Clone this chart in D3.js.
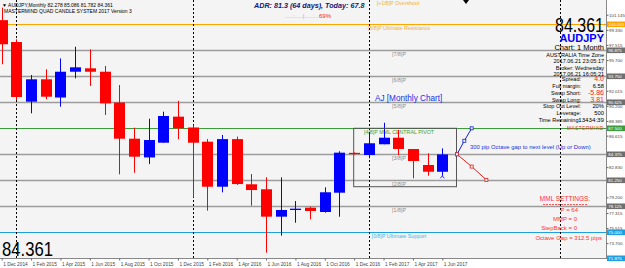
<!DOCTYPE html>
<html>
<head>
<meta charset="utf-8">
<script src="https://cdn.jsdelivr.net/npm/d3@7/dist/d3.min.js"></script>
<style>
body { margin: 0; background: #fff; }
svg { display: block; font-family: "Liberation Sans", Arial, sans-serif; }
</style>
</head>
<body>
<svg id="canvas" width="625" height="268"></svg>
<script>
// monthly AUDJPY bars, Dec 2014 .. Jun 2017
let opens  = [100.5, 97.87, 90.7, 93.39, 91.2, 94.3, 94.71, 94.3, 90.6, 86.25, 84.0, 85.77, 88.9,
              87.6, 85.89, 80.48, 86.2, 80.77, 80.17, 76.88, 77.68, 77.96, 77.44, 79.76, 84.55,
              84.29, 85.58, 86.37, 85.01, 83.09, 82.278]
let highs  = [102.0, 98.2, 93.9, 94.6, 95.9, 97.3, 97.0, 95.0, 92.7, 87.57, 88.65, 89.5, 90.8,
              87.86, 86.2, 86.7, 86.5, 82.0, 81.61, 81.6, 78.76, 78.08, 80.4, 84.74, 84.6,
              87.06, 88.17, 87.3, 85.01, 84.5, 85.086]
let lows   = [95.2, 90.9, 89.3, 91.0, 90.1, 93.5, 92.6, 89.1, 81.97, 82.16, 83.2, 85.77, 86.2,
              79.2, 77.6, 79.8, 80.7, 78.2, 72.55, 74.6, 76.15, 76.56, 77.36, 76.87, 84.35,
              83.9, 85.58, 84.29, 81.49, 81.8, 81.782]
let closes = [97.6, 91.26, 93.39, 91.3, 94.3, 94.83, 94.3, 90.5, 86.25, 84.09, 86.09, 88.98, 87.5,
              85.77, 80.48, 86.2, 80.8, 80.08, 76.88, 77.68, 77.84, 77.56, 79.81, 84.57, 84.4,
              85.7, 86.37, 85.01, 83.57, 82.28, 84.361]

let dateTicks = [0, 2, 4, 6, 8, 10, 12, 14, 16, 18, 20, 22, 24, 26, 28, 30]
let dateLabels = ["1 Dec 2014", "1 Feb 2015", "1 Apr 2015", "1 Jun 2015", "1 Aug 2015", "1 Oct 2015",
                  "1 Dec 2015", "1 Feb 2016", "1 Apr 2016", "1 Jun 2016", "1 Aug 2016", "1 Oct 2016",
                  "1 Dec 2016", "1 Feb 2017", "1 Apr 2017", "1 Jun 2017"]
let yearSeparators = [1, 13, 25, 38]

let priceTicks = [101.145, 99.330, 97.515, 95.700, 92.015, 90.200, 88.385, 86.615, 82.830, 79.200, 77.315, 75.515, 73.700]

let mmlLevels = [100, 96.875, 93.75, 90.625, 87.5, 84.375, 81.25, 78.125, 75, 71.875]
let mmlNames  = ["[8/8]P Ultimate Resistance", "[7/8]P", "[6/8]P", "[5/8]P", "[4/8]P MML CENTRAL PIVOT",
                 "[3/8]P", "[2/8]P", "[1/8]P", "[0/8]P Ultimate Support", ""]
let mmlKinds  = ["top", "mid", "mid", "mid", "pivot", "mid", "mid", "mid", "bottom", "bottom"]

let projUp   = [[31, 84.375], [31.5, 86.0], [32, 87.5]]
let projDown = [[31, 84.375], [32, 82.9], [33, 81.3]]
let boxRange = {from: 24, to: 31, top: 87.5, bottom: 80.48}

let width = 625
let height = 268
let plotRight = 606
let plotBottom = 258

let kindColor = {top: "#ffa500", mid: "#9c9c9c", pivot: "#3c9c3c", bottom: "#1ea0e0"}
let tagColor  = {top: "#ffa500", mid: "#6e6e6e", pivot: "#3c9c3c", bottom: "#1ea0e0"}
let labelColor = {top: "#f0b040", mid: "#8c8c8c", pivot: "#3c9c3c", bottom: "#40b8e8"}

let canvas = d3.select("#canvas")

let xScale = d3.scaleLinear().domain([0, 30]).range([1.7, 442.3])
let yScale = d3.scaleLinear().domain([71.875, 100]).range([258.3, 24.3])

canvas.append("rect").attr("width", width).attr("height", height).attr("fill", "#ffffff")
canvas.append("rect").attr("width", plotRight).attr("height", plotBottom).attr("fill", "#f4f4f4")

canvas.append("clipPath").attr("id", "clip")
    .append("rect").attr("width", plotRight).attr("height", plotBottom)

let plot = canvas.append("g").attr("clip-path", "url(#clip)")

// MML lines
plot.selectAll(".mml")
    .data(mmlLevels)
    .enter()
    .append("line")
    .attr("x1", 0).attr("x2", plotRight)
    .attr("y1", d => Math.round(yScale(d)) + 0.5)
    .attr("y2", d => Math.round(yScale(d)) + 0.5)
    .attr("stroke", (d, i) => kindColor[mmlKinds[i]])
    .attr("stroke-width", (d, i) => mmlKinds[i] == "mid" ? 1.3 : 1.2)

plot.selectAll(".mmlLabel")
    .data(mmlLevels)
    .enter()
    .append("text")
    .attr("x", 399)
    .attr("y", d => yScale(d) + 6)
    .attr("text-anchor", "middle")
    .attr("font-size", "5.3px")
    .attr("fill", (d, i) => labelColor[mmlKinds[i]])
    .text((d, i) => mmlNames[i])

plot.append("text").attr("x", 398).attr("y", 4.5).attr("text-anchor", "middle")
    .attr("font-size", "5.3px").attr("fill", "#f0b040").text("[+1/8]P Overshoot")

// yearly separators
plot.selectAll(".sep")
    .data(yearSeparators)
    .enter()
    .append("line")
    .attr("x1", d => Math.round(xScale(d)) + 0.5)
    .attr("x2", d => Math.round(xScale(d)) + 0.5)
    .attr("y1", 0).attr("y2", plotBottom)
    .attr("stroke", "#000").attr("stroke-dasharray", "2,2").attr("stroke-width", 1)

// candles
let idx = d3.range(opens.length)
let candleColor = i => closes[i] >= opens[i] ? "#0000ff" : "#ff0000"
let bodyWidth = 11

plot.selectAll(".wick")
    .data(idx)
    .enter()
    .append("line")
    .attr("x1", i => Math.round(xScale(i)) + 0.5)
    .attr("x2", i => Math.round(xScale(i)) + 0.5)
    .attr("y1", i => yScale(highs[i]))
    .attr("y2", i => yScale(lows[i]))
    .attr("stroke", candleColor)
    .attr("stroke-width", 1)

plot.selectAll(".body")
    .data(idx)
    .enter()
    .append("rect")
    .attr("x", i => Math.round(xScale(i)) + 0.5 - bodyWidth / 2)
    .attr("width", bodyWidth)
    .attr("y", i => yScale(Math.max(opens[i], closes[i])))
    .attr("height", i => Math.max(1, Math.abs(yScale(opens[i]) - yScale(closes[i]))))
    .attr("fill", candleColor)

// box around the recent range
plot.append("rect")
    .attr("x", xScale(boxRange.from) - 0.5)
    .attr("y", yScale(boxRange.top))
    .attr("width", xScale(boxRange.to) - xScale(boxRange.from))
    .attr("height", yScale(boxRange.bottom) - yScale(boxRange.top))
    .attr("fill", "none").attr("stroke", "#555").attr("stroke-width", 1)

// projections
let projLine = d3.line().x(d => xScale(d[0])).y(d => yScale(d[1]))
let drawProj = (pts, color) => {
    plot.append("path").attr("d", projLine(pts)).attr("fill", "none")
        .attr("stroke", color).attr("stroke-width", 1)
    plot.selectAll(null).data(pts).enter().append("rect")
        .attr("x", d => xScale(d[0]) - 1.5).attr("y", d => yScale(d[1]) - 1.5)
        .attr("width", 3).attr("height", 3)
        .attr("fill", "#f4f4f4").attr("stroke", color).attr("stroke-width", 0.8)
}
drawProj(projUp, "#1020d0")
drawProj(projDown, "#e02020")

// small arrow under last candle
plot.append("path")
    .attr("d", "M" + (xScale(30) - 2) + "," + (yScale(lows[30]) + 2.5) + " l2,-2.5 l2,2.5")
    .attr("fill", "none").attr("stroke", "#0000ff").attr("stroke-width", 0.8)

// chart shift marker
plot.append("path").attr("d", "M463,0 l6,0 l-3,4 z").attr("fill", "#000")

// texts in the plot
let txt = (x, y, s, size, color, anchor, extra) => {
    let t = plot.append("text").attr("x", x).attr("y", y).attr("font-size", size + "px")
        .attr("fill", color).attr("text-anchor", anchor || "start").text(s)
    if (extra) extra(t)
    return t
}

txt(2, 7, "\u25BC AUDJPY,Monthly  82.278 85.086 81.782 84.361", 5, "#000")
txt(4, 12.5, "MASTERMIND QUAD CANDLE SYSTEM 2017 Version 3", 5, "#000")

txt(254, 8, "ADR: 81.3 (64 days), Today: 67.8", 7.2, "#14147a", "start",
    t => t.attr("font-weight", "bold").attr("font-style", "italic"))
txt(285, 17.5, "......:......|......:....", 5, "#f08080")
txt(319, 17.5, "69%", 6, "#ff2020")

txt(604, 32, "84.361", 21, "#000", "end", t => t.attr("textLength", 49).attr("lengthAdjust", "spacingAndGlyphs"))
txt(604, 42, "AUDJPY", 11, "#0000ff", "end", t => t.attr("font-weight", "bold"))
txt(604, 49.5, "Chart: 1 Month", 7.5, "#000", "end")

txt(604, 56.5, "AUSTRALIA Time Zone", 5.5, "#000", "end")
txt(604, 63, "2017.06.21 23:05:17", 5.5, "#000", "end")
txt(604, 69.5, "Broker: Wednesday", 5.5, "#000", "end")
txt(604, 76, "2017.06.21 16:05:21", 5.5, "#000", "end")

let infoRows = [["Spread:", "4.0", "#ff2020", 81], ["Full margin:", "6.58", "#000", 88],
                ["Swap Short:", "-5.86", "#ff2020", 94.5], ["Swap Long:", "3.81", "#ff2020", 101.5],
                ["Stop Out Level:", "20%", "#000", 108], ["Leverage:", "500", "#000", 114.5]]
infoRows.forEach(r => {
    txt(581, r[3], r[0], 5.5, "#000", "end")
    txt(604, r[3], r[1], r[2] == "#000" ? 5.8 : 7, r[2], "end")
})
txt(580, 121.5, "Time Remaining:", 5.5, "#000", "end")
txt(604, 121.5, "13434:39", 6.2, "#000", "end")
txt(604, 130, "MASTERMIND", 4.6, "#e03030", "end", t => t.attr("letter-spacing", "0.6px"))

txt(375, 101, "AJ [Monthly Chart]", 8.2, "#2030e0")
txt(470, 149, "300 pip Octave gap to next level (Up or Down)", 5.9, "#2030e0")

txt(565, 201, "MML SETTINGS:", 6.5, "#ff3030", "middle")
plot.append("line").attr("x1", 543).attr("x2", 587).attr("y1", 204.5).attr("y2", 204.5)
    .attr("stroke", "#ff3030").attr("stroke-width", 0.8).attr("stroke-dasharray", "2,1")
txt(578, 212, "P = 64", 6, "#ff3030", "end")
txt(577, 221, "MMP = 0", 6, "#ff3030", "end")
txt(577, 230, "StepBack = 0", 6, "#ff3030", "end")
txt(602, 240, "Octave Gap = 312.5 pips", 6, "#ff3030", "end")

txt(2, 255.5, "84.361", 20, "#000", "start", t => t.attr("textLength", 51).attr("lengthAdjust", "spacingAndGlyphs"))

// frame
canvas.append("line").attr("x1", plotRight + 0.5).attr("x2", plotRight + 0.5).attr("y1", 0).attr("y2", plotBottom + 1)
    .attr("stroke", "#888")
canvas.append("line").attr("x1", 0).attr("x2", plotRight + 1).attr("y1", plotBottom + 0.5).attr("y2", plotBottom + 0.5)
    .attr("stroke", "#888")

// right price axis
let yAxis = d3.axisRight(yScale).tickValues(priceTicks).tickSize(2).tickFormat(d3.format(".3f"))
let yAxisG = canvas.append("g")
    .attr("transform", "translate(" + (plotRight + 0.5) + ",0)")
    .call(yAxis)
yAxisG.select(".domain").remove()
yAxisG.selectAll("text").attr("font-size", "4.4px").attr("fill", "#444").attr("x", 2.5)
yAxisG.selectAll("line").attr("stroke", "#666")

// level tags on the axis
let tags = canvas.selectAll(".tag").data(mmlLevels).enter().append("g")
    .attr("transform", d => "translate(" + (plotRight + 1) + "," + yScale(d) + ")")
tags.append("rect").attr("x", 0).attr("y", -2.8).attr("width", 18).attr("height", 5.6)
    .attr("fill", (d, i) => tagColor[mmlKinds[i]])
tags.append("text").attr("x", 1.3).attr("y", 1.6).attr("font-size", "4.4px").attr("fill", "#fff")
    .text(d => d3.format(".3f")(d))

// bottom date axis
let xAxis = d3.axisBottom(xScale).tickValues(dateTicks).tickSize(2)
    .tickFormat((d, i) => dateLabels[i])
let xAxisG = canvas.append("g")
    .attr("transform", "translate(0," + (plotBottom + 0.5) + ")")
    .call(xAxis)
xAxisG.select(".domain").remove()
xAxisG.selectAll("text").attr("font-size", "4.8px").attr("fill", "#444")
    .attr("text-anchor", "start").attr("x", 1).attr("dy", "0").attr("y", 7.5)
xAxisG.selectAll("line").attr("stroke", "#666")
</script>
</body>
</html>
